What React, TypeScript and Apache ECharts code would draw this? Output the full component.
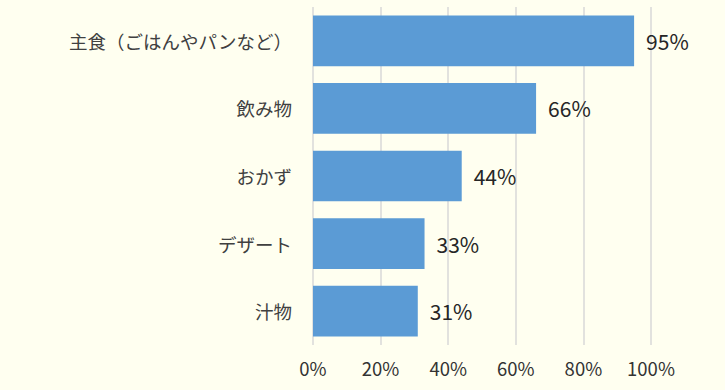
import React, { useEffect, useRef } from "react";
import * as echarts from "echarts";

const categories = ["主食（ごはんやパンなど）", "飲み物", "おかず", "デザート", "汁物"];
const values = [95, 66, 44, 33, 31];
const tickValues = [0, 20, 40, 60, 80, 100];

export default function App() {
  const ref = useRef<HTMLDivElement>(null);
  useEffect(() => {
    if (!ref.current) return;
    const chart = echarts.init(ref.current, null, { renderer: "svg" });
    const font = "'Noto Sans CJK JP', 'Noto Sans', sans-serif";
    chart.setOption({
      animation: false,
      backgroundColor: "#FFFFF0",
      textStyle: { fontFamily: font },
      grid: { left: 313, right: 74, top: 7, bottom: 45, containLabel: false },
      xAxis: {
        type: "value",
        min: tickValues[0],
        max: tickValues[tickValues.length - 1],
        interval: 20,
        axisLine: { show: false },
        axisTick: { show: false },
        splitLine: { show: true, lineStyle: { color: "#D9D9D9", width: 1.5 } },
        axisLabel: {
          formatter: (v: number) => v + "%",
          color: "#333333",
          fontSize: 18.5,
          margin: 14,
          fontFamily: font,
        },
      },
      yAxis: {
        type: "category",
        data: categories,
        inverse: true,
        axisLine: { show: false },
        axisTick: { show: false },
        axisLabel: { color: "#404040", fontSize: 18.5, margin: 21, fontFamily: font, padding: [0, 0, 4, 0] },
      },
      series: [
        {
          type: "bar",
          data: values,
          barCategoryGap: "25%",
          itemStyle: { color: "#5B9BD5" },
          label: {
            show: true,
            position: "right",
            distance: 12,
            formatter: (p: any) => p.value + "%",
            color: "#262626",
            fontSize: 21,
            fontFamily: font,
          },
        },
      ],
    });
    return () => chart.dispose();
  }, []);
  return (
    <div
      ref={ref}
      style={{ position: "fixed", left: 0, top: 0, width: 725, height: 390 }}
    />
  );
}
